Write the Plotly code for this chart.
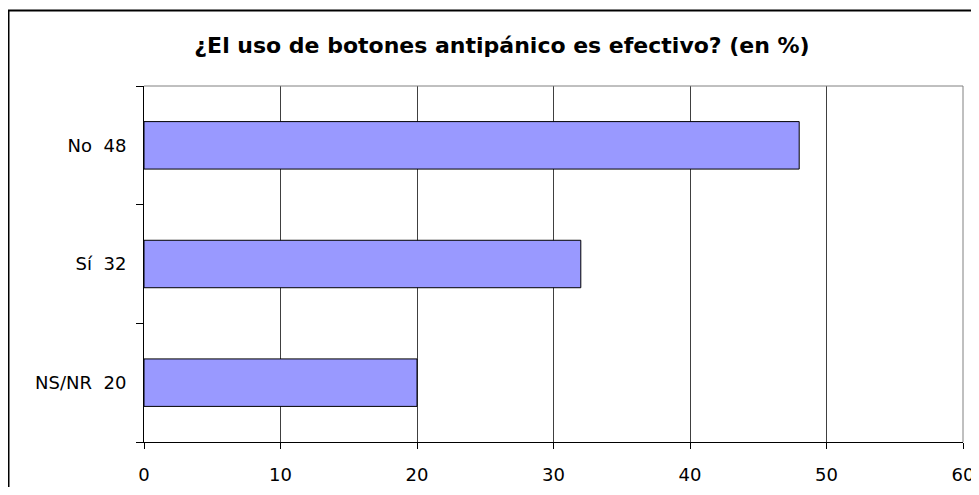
import plotly.graph_objects as go

categories = ["NS/NR", "Sí", "No"]
values = [20, 32, 48]
x_ticks = [0, 10, 20, 30, 40, 50, 60]
title_text = "¿El uso de botones antipánico es efectivo? (en %)"

labels = [f"{c}\u00a0\u00a0{v}" for c, v in zip(categories, values)]

FONT = "'DejaVu Sans', Arial, sans-serif"

# the page places the figure 8px from the top-left corner
OFF = 8
W, H = 979 - OFF, 495 - 2 * OFF
L, R, T, B = 144 - OFF, 963 - OFF, 86 - OFF, 442 - OFF  # plot area in figure pixels
pw, ph = R - L, B - T

fig = go.Figure(
    go.Bar(
        x=values,
        y=labels,
        orientation="h",
        width=0.4,
        marker=dict(color="#9999FF", line=dict(color="#000000", width=1)),
        hoverinfo="x+y",
    )
)

fig.update_layout(
    width=W,
    height=H,
    margin=dict(l=L, r=W - R, t=T, b=H - B, pad=0),
    paper_bgcolor="white",
    plot_bgcolor="white",
    showlegend=False,
    font=dict(family=FONT, size=18, color="#000000"),
    title=dict(
        text=f"<b>{title_text}</b>",
        font=dict(family=FONT, size=22, color="#000000"),
        x=(502 - OFF) / W,
        xref="container",
        xanchor="center",
        y=1 - (45 - OFF) / H,
        yref="container",
        yanchor="middle",
    ),
    xaxis=dict(
        range=[0, 60],
        tickvals=x_ticks,
        ticktext=[str(t) for t in x_ticks],
        showgrid=True,
        gridcolor="#404040",
        gridwidth=1,
        showline=True,
        linecolor="#000000",
        linewidth=1,
        ticks="outside",
        ticklen=6,
        tickcolor="#000000",
        zeroline=False,
        tickfont=dict(family=FONT, size=18),
        ticklabelstandoff=10,
        ticklabeloverflow="allow",
        automargin=False,
    ),
    yaxis=dict(
        type="category",
        categoryorder="array",
        categoryarray=labels,
        range=[-0.5, 2.5],
        showgrid=False,
        showline=True,
        linecolor="#000000",
        linewidth=1,
        ticks="outside",
        tickson="boundaries",
        ticklen=7,
        tickcolor="#000000",
        tickfont=dict(family=FONT, size=18),
        ticklabelstandoff=13,
        automargin=False,
    ),
    shapes=[
        # plot area top and right borders (gray)
        dict(type="line", xref="paper", yref="paper", x0=0, x1=1, y0=1, y1=1,
             line=dict(color="#808080", width=1)),
        dict(type="line", xref="paper", yref="paper", x0=1, x1=1, y0=0, y1=1,
             line=dict(color="#808080", width=1)),
        # outer chart border
        dict(type="rect", xref="paper", yref="paper",
             x0=(0.5 - L) / pw, x1=(W + 20 - L) / pw,
             y0=(B - H - 20) / ph, y1=(B - 2.5) / ph,
             line=dict(color="#000000", width=2), layer="below"),
    ],
)

fig.write_html("out.html")
